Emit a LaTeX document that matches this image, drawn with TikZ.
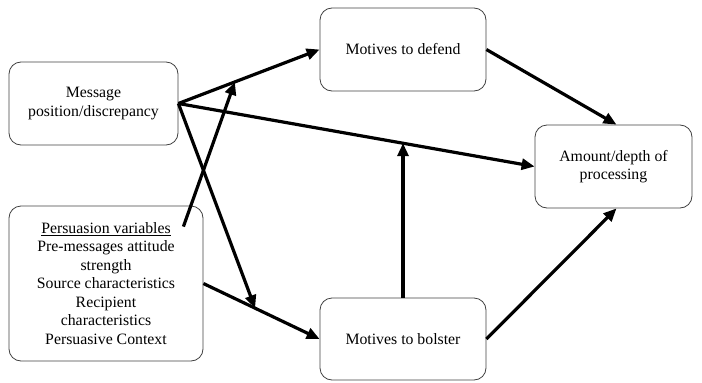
\documentclass[tikz,border=0pt]{standalone}
\usepackage{fontspec}
\setmainfont{Liberation Serif}
\usetikzlibrary{arrows.meta,calc}
\begin{document}
\begin{tikzpicture}[x=1pt,y=-1pt,
  box/.style={draw=black!75, line width=0.8pt, rounded corners=12pt, inner sep=2pt, align=center,
    font=\fontsize{15.8pt}{18.5pt}\selectfont},
  arr/.style={line width=3.2pt, -{Triangle[length=13pt,width=11pt]}, shorten >=0pt}
]
\useasboundingbox (0,0) rectangle (702,383);
\node[box, minimum width=169pt, minimum height=83pt] (msg) at (93.5,103.5) {Message\\position/discrepancy};
\node[box, minimum width=194pt, minimum height=155pt] (pers) at (106,283.5) {\underline{Persuasion variables}\\Pre-messages attitude\\strength\\Source characteristics\\Recipient\\characteristics\\Persuasive Context};
\node[box, minimum width=166pt, minimum height=83pt] (def) at (403,49.5) {Motives to defend};
\node[box, minimum width=166pt, minimum height=82pt] (bol) at (403,339) {Motives to bolster};
\node[box, minimum width=157pt, minimum height=83pt] (amt) at (613.5,166.5) {Amount/depth of\\processing};

\coordinate (ps) at ($(pers.north east)+(-20,21)$);
\coordinate (onMD) at ($(msg.east)!0.40!(def.west)$);
\coordinate (onPB) at ($(pers.east)!0.445!(bol.west)$);
\coordinate (onMA) at ($(msg.east)!0.63!(amt.west)$);

\draw[arr] (msg.east) -- (def.west);
\draw[arr] (msg.east) -- (amt.west);
\draw[arr] (msg.east) -- (onPB);
\draw[arr] (ps) -- (onMD);
\draw[arr] (pers.east) -- (bol.west);
\draw[arr] (bol.north) -- (bol.north |- onMA);
\draw[arr] (def.east) -- ($(amt.north)+(3,0)$);
\draw[arr] (bol.east) -- ($(amt.south)+(3,0)$);
\end{tikzpicture}
\end{document}
